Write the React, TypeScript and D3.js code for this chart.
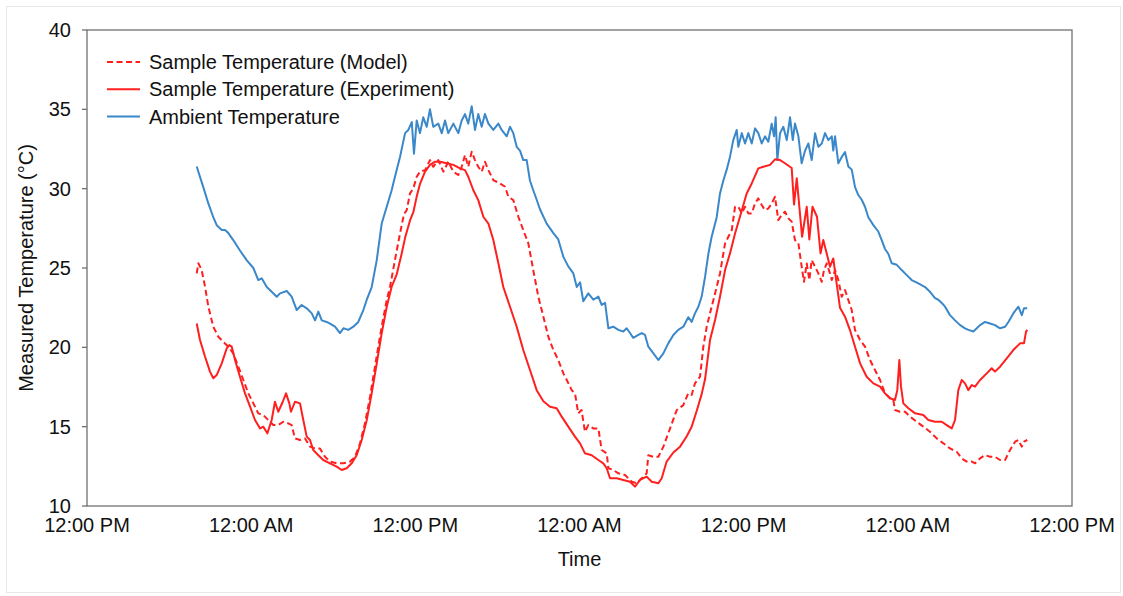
import React from "react";
import * as d3 from "d3";

// Time is in hours from the first 12:00 PM tick
const xTickHours = [0, 12, 24, 36, 48, 60, 72];
const xTickLabels = ["12:00 PM", "12:00 AM", "12:00 PM", "12:00 AM", "12:00 PM", "12:00 AM", "12:00 PM"];
const yTicks = [10, 15, 20, 25, 30, 35, 40];

const seriesNames = ["Sample Temperature (Model)", "Sample Temperature (Experiment)", "Ambient Temperature"];

const ambientSeries: [number, number][] = [
  [8.02,31.4],[8.14,31.07],[8.50,30.1],[8.87,29.07],[9.23,28.2],[9.48,27.7],[9.85,27.4],[10.09,27.4],[10.33,27.2],[10.69,26.76],[11.18,26.1],[11.67,25.5],[12.16,25.0],[12.52,24.24],[12.77,24.35],[13.14,23.8],[13.50,23.5],[13.87,23.19],[14.11,23.4],[14.60,23.55],[14.96,23.2],[15.33,22.35],[15.69,22.67],[16.06,22.46],[16.43,22.14],[16.67,21.7],[16.91,22.25],[17.16,21.7],[17.52,21.6],[17.76,21.5],[18.13,21.3],[18.49,20.9],[18.74,21.2],[19.10,21.1],[19.47,21.3],[19.83,21.6],[20.20,22.35],[20.45,23.0],[20.81,23.8],[21.18,25.5],[21.54,27.8],[21.91,28.86],[22.27,29.9],[22.51,30.75],[22.88,32.0],[23.25,33.5],[23.49,33.7],[23.74,34.2],[23.90,32.2],[24.10,34.3],[24.34,33.5],[24.58,34.5],[24.83,33.9],[25.07,35.0],[25.31,33.9],[25.68,34.1],[25.93,33.5],[26.17,34.3],[26.41,33.5],[26.78,34.1],[27.14,33.5],[27.39,34.3],[27.63,34.7],[27.87,34.1],[28.12,35.2],[28.36,33.7],[28.60,34.7],[28.85,33.9],[29.09,34.7],[29.34,34.1],[29.70,33.7],[30.07,34.1],[30.31,33.7],[30.68,33.3],[30.92,33.9],[31.16,33.5],[31.41,32.64],[31.65,32.4],[31.89,31.8],[32.14,31.8],[32.38,30.5],[32.62,29.9],[32.87,29.3],[33.11,28.7],[33.60,27.8],[34.09,27.2],[34.45,26.8],[34.82,25.7],[35.18,25.1],[35.55,24.66],[35.80,23.8],[36.04,24.1],[36.28,22.9],[36.64,23.4],[37.01,23.0],[37.38,23.2],[37.62,22.67],[37.87,22.8],[38.11,21.2],[38.47,21.3],[38.84,21.1],[39.20,21.0],[39.45,21.2],[39.69,20.9],[39.93,20.6],[40.30,20.78],[40.55,20.9],[40.79,20.78],[41.03,20.04],[41.40,19.62],[41.76,19.2],[42.13,19.62],[42.49,20.25],[42.86,20.78],[43.22,21.1],[43.59,21.3],[43.95,21.9],[44.20,21.6],[44.44,22.14],[44.69,22.56],[44.93,23.2],[45.18,24.45],[45.42,25.9],[45.66,26.97],[46.03,28.2],[46.27,29.7],[46.51,30.5],[46.76,31.2],[47.00,32.0],[47.24,33.06],[47.49,33.7],[47.61,32.64],[47.86,33.5],[48.10,32.85],[48.34,33.5],[48.59,32.85],[48.83,33.8],[49.07,33.5],[49.32,32.85],[49.56,33.3],[49.80,32.96],[50.05,34.1],[50.22,33.3],[50.34,34.5],[50.46,31.8],[50.66,33.5],[50.90,33.9],[51.15,33.06],[51.39,34.5],[51.59,33.06],[51.75,34.1],[52.00,33.3],[52.24,31.6],[52.49,32.4],[52.73,32.85],[52.97,31.8],[53.22,33.5],[53.46,32.64],[53.71,32.85],[53.95,33.5],[54.19,33.06],[54.44,33.3],[54.55,32.4],[54.68,33.3],[54.92,31.6],[55.17,32.0],[55.41,32.3],[55.65,31.4],[55.90,31.2],[56.14,30.1],[56.38,29.6],[56.63,29.3],[56.87,28.86],[57.11,28.2],[57.48,27.7],[57.84,27.3],[58.09,26.76],[58.33,26.2],[58.57,25.9],[58.82,25.3],[59.19,25.2],[59.55,24.87],[59.92,24.55],[60.28,24.24],[60.77,24.03],[61.26,23.8],[61.62,23.5],[61.99,23.1],[62.23,23.0],[62.48,22.8],[62.72,22.56],[63.08,22.03],[63.45,21.7],[63.82,21.4],[64.18,21.2],[64.42,21.1],[64.79,21.0],[65.04,21.2],[65.28,21.4],[65.64,21.6],[66.01,21.5],[66.37,21.4],[66.74,21.2],[67.11,21.3],[67.35,21.6],[67.71,22.14],[68.08,22.56],[68.33,22.03],[68.49,22.46],[68.73,22.46]
];

const experimentSeries: [number, number][] = [
  [8.02,21.5],[8.26,20.46],[8.63,19.41],[8.99,18.47],[9.23,18.05],[9.48,18.25],[9.85,18.99],[10.21,19.93],[10.40,20.14],[10.58,20.04],[10.82,19.2],[11.18,18.15],[11.55,17.1],[11.92,16.26],[12.28,15.42],[12.65,14.89],[12.89,15.0],[13.18,14.58],[13.50,15.42],[13.74,16.57],[13.98,15.94],[14.31,16.57],[14.55,17.1],[14.79,16.47],[14.91,15.94],[15.20,16.57],[15.57,16.47],[15.81,15.42],[16.06,14.37],[16.30,14.16],[16.54,13.53],[16.91,13.2],[17.27,12.9],[17.76,12.69],[18.25,12.48],[18.62,12.27],[18.98,12.38],[19.35,12.69],[19.71,13.2],[20.08,14.16],[20.45,15.42],[20.81,17.1],[21.18,18.99],[21.54,20.88],[21.91,22.56],[22.27,23.82],[22.64,24.6],[23.00,25.9],[23.25,26.9],[23.61,28.0],[23.85,28.5],[24.10,29.5],[24.34,30.3],[24.71,31.07],[25.07,31.5],[25.44,31.7],[25.80,31.7],[26.29,31.6],[26.78,31.5],[27.27,31.28],[27.63,31.17],[27.87,30.75],[28.24,29.9],[28.60,29.28],[28.97,28.23],[29.34,27.8],[29.70,26.76],[30.07,25.3],[30.43,23.8],[30.92,22.56],[31.41,21.3],[31.89,19.83],[32.38,18.57],[32.87,17.3],[33.36,16.6],[33.85,16.26],[34.33,16.16],[34.70,15.63],[35.18,15.0],[35.67,14.37],[36.04,13.95],[36.40,13.32],[36.89,13.2],[37.38,12.9],[37.74,12.69],[37.99,12.38],[38.23,11.75],[38.72,11.75],[39.20,11.64],[39.69,11.53],[40.06,11.22],[40.42,11.64],[40.91,11.85],[41.28,11.53],[41.76,11.43],[42.01,11.75],[42.37,12.8],[42.86,13.37],[43.35,13.74],[43.84,14.4],[44.20,15.0],[44.57,16.0],[44.93,17.05],[45.18,18.0],[45.54,20.46],[45.91,21.72],[46.27,23.19],[46.64,24.87],[47.00,25.92],[47.37,27.18],[47.73,28.23],[48.22,29.7],[48.59,30.33],[49.07,31.28],[49.44,31.38],[49.93,31.5],[50.29,31.85],[50.66,31.8],[51.02,31.6],[51.51,31.3],[51.68,29.0],[51.88,30.65],[52.27,26.97],[52.61,28.86],[52.80,26.8],[53.03,28.86],[53.36,28.23],[53.62,25.92],[53.82,26.76],[54.07,25.92],[54.31,25.08],[54.55,25.6],[54.80,24.0],[55.04,22.5],[55.41,21.93],[55.77,21.09],[56.14,20.04],[56.51,18.99],[56.99,18.15],[57.48,17.73],[57.97,17.52],[58.33,17.1],[58.70,16.79],[59.06,16.68],[59.23,17.3],[59.38,19.2],[59.50,17.52],[59.67,16.47],[60.04,16.16],[60.53,15.84],[61.13,15.73],[61.50,15.42],[61.99,15.31],[62.48,15.31],[62.84,15.1],[63.21,14.89],[63.45,15.42],[63.69,17.3],[63.94,17.94],[64.18,17.73],[64.42,17.3],[64.67,17.62],[64.91,17.52],[65.28,17.94],[65.77,18.36],[66.13,18.68],[66.37,18.47],[66.74,18.78],[67.23,19.31],[67.71,19.83],[68.20,20.25],[68.49,20.25],[68.64,20.99],[68.73,21.1]
];

const modelSeries: [number, number][] = [
  [8.02,24.66],[8.14,25.3],[8.38,24.87],[8.63,23.82],[8.87,22.56],[9.23,21.3],[9.60,20.67],[9.96,20.35],[10.33,20.04],[10.69,19.62],[11.06,18.78],[11.43,17.94],[11.79,17.1],[12.16,16.47],[12.52,15.84],[12.89,15.73],[13.25,15.42],[13.62,15.1],[13.98,15.1],[14.35,15.31],[14.71,15.21],[14.96,15.1],[15.20,14.26],[15.57,14.16],[15.94,14.26],[16.30,13.74],[16.67,13.63],[17.03,13.63],[17.40,13.1],[17.76,12.8],[18.25,12.69],[18.74,12.69],[19.23,12.8],[19.59,13.1],[19.96,13.95],[20.32,15.21],[20.69,16.89],[20.93,18.15],[21.29,20.04],[21.54,21.3],[21.91,22.98],[22.15,23.82],[22.51,25.5],[22.88,27.18],[23.17,28.4],[23.37,28.65],[23.61,29.7],[23.85,30.01],[24.10,30.75],[24.34,31.07],[24.71,31.17],[25.07,31.8],[25.31,31.38],[25.68,31.8],[26.05,31.07],[26.41,31.7],[26.78,31.07],[27.14,30.86],[27.39,31.38],[27.63,32.12],[27.87,31.38],[28.12,32.33],[28.36,31.8],[28.60,31.38],[28.85,31.07],[29.09,31.7],[29.34,31.17],[29.70,30.54],[30.19,30.33],[30.56,30.12],[30.80,29.49],[31.16,29.28],[31.53,28.23],[31.89,27.39],[32.26,26.55],[32.62,24.87],[32.99,23.19],[33.36,21.93],[33.72,20.67],[34.09,19.83],[34.45,19.2],[34.82,18.36],[35.07,17.94],[35.43,17.3],[35.67,17.1],[35.91,15.84],[36.15,16.05],[36.40,14.68],[36.64,15.1],[37.01,14.89],[37.38,14.89],[37.62,13.53],[37.99,13.32],[38.11,12.38],[38.47,12.27],[38.84,12.06],[39.33,11.95],[39.82,11.53],[40.18,11.43],[40.55,11.75],[40.91,12.06],[41.03,13.2],[41.40,13.1],[41.76,13.1],[42.13,13.74],[42.62,14.89],[43.11,16.05],[43.59,16.36],[43.95,17.1],[44.20,17.0],[44.44,17.73],[44.81,18.15],[45.05,20.04],[45.30,21.3],[45.54,22.14],[45.91,23.4],[46.27,24.66],[46.64,26.55],[46.88,26.97],[47.13,27.39],[47.37,28.86],[47.61,28.86],[47.86,28.44],[48.10,28.86],[48.34,28.44],[48.59,28.44],[48.83,29.07],[49.07,29.39],[49.32,28.97],[49.56,28.65],[49.80,28.75],[50.05,29.07],[50.29,29.49],[50.53,28.02],[50.78,28.34],[51.02,28.55],[51.27,28.13],[51.51,27.92],[51.75,26.76],[52.00,26.55],[52.24,25.08],[52.41,24.13],[52.61,25.29],[52.80,24.24],[52.97,25.5],[53.22,25.08],[53.46,24.66],[53.71,24.13],[53.87,24.87],[54.07,25.29],[54.31,24.66],[54.44,24.24],[54.68,24.87],[54.92,24.24],[55.17,23.19],[55.41,23.61],[55.65,22.98],[55.90,22.35],[56.14,21.09],[56.51,20.46],[56.87,20.04],[57.24,19.2],[57.60,18.57],[57.97,17.94],[58.33,17.1],[58.70,16.79],[58.94,16.68],[59.06,16.05],[59.43,15.94],[59.80,15.94],[60.16,15.63],[60.65,15.31],[61.13,15.0],[61.62,14.68],[62.11,14.26],[62.60,13.95],[63.08,13.63],[63.57,13.42],[63.94,13.0],[64.30,12.8],[64.67,12.8],[64.91,12.69],[65.28,13.0],[65.64,13.21],[66.01,13.1],[66.37,13.1],[66.74,12.9],[67.11,12.9],[67.47,13.53],[67.84,14.05],[68.08,14.16],[68.33,13.74],[68.49,14.05],[68.73,14.16]
];

const RED = "#ff1f1f";
const BLUE = "#3a88c9";
const FONT = "'Liberation Sans', Arial, Helvetica, sans-serif";

export default function App() {
  const W = 1123, H = 596;
  const left = 87, right = 1072, top = 30, bottom = 506;
  const x = d3.scaleLinear().domain([0, 72]).range([left, right]);
  const y = d3.scaleLinear().domain([10, 40]).range([bottom, top]);
  const line = d3.line<[number, number]>().x(d => x(d[0])).y(d => y(d[1]));

  const legendItems = [
    { name: seriesNames[0], color: RED, dash: "6,3.5" },
    { name: seriesNames[1], color: RED, dash: undefined },
    { name: seriesNames[2], color: BLUE, dash: undefined },
  ];

  return (
    <div style={{ position: "absolute", left: 0, top: 0 }}>
      <svg width={W} height={H} style={{ display: "block", fontFamily: FONT }}>
        <rect x={0} y={0} width={W} height={H} fill="#ffffff" />
        <rect x={6.5} y={6.5} width={1114} height={586} fill="none" stroke="#e6e6e6" strokeWidth={1} />

        {/* plot frame */}
        <rect x={left} y={top} width={right - left} height={bottom - top} fill="none" stroke="#707070" strokeWidth={1.3} />

        {/* y ticks */}
        {yTicks.map(t => (
          <g key={"y" + t}>
            <line x1={left - 5} x2={left} y1={y(t)} y2={y(t)} stroke="#707070" strokeWidth={1.3} />
            <text x={71} y={y(t) + 7} textAnchor="end" fontSize={20} fill="#111">{t}</text>
          </g>
        ))}

        {/* x tick labels */}
        {xTickHours.map((h, i) => (
          <text key={"x" + i} x={x(h)} y={532} textAnchor="middle" fontSize={20} fill="#111">{xTickLabels[i]}</text>
        ))}

        {/* axis titles */}
        <text x={(left + right) / 2} y={566} textAnchor="middle" fontSize={20} fill="#111">Time</text>
        <text transform={`translate(33, ${(top + bottom) / 2}) rotate(-90)`} textAnchor="middle" fontSize={20} fill="#111">
          Measured Temperature (°C)
        </text>

        {/* series */}
        <path d={line(ambientSeries) || ""} fill="none" stroke={BLUE} strokeWidth={2} strokeLinejoin="round" />
        <path d={line(experimentSeries) || ""} fill="none" stroke={RED} strokeWidth={2} strokeLinejoin="round" />
        <path d={line(modelSeries) || ""} fill="none" stroke={RED} strokeWidth={2} strokeDasharray="6,3.5" strokeLinejoin="round" />

        {/* legend */}
        {legendItems.map((it, i) => {
          const ly = 62 + i * 27.3;
          return (
            <g key={"lg" + i}>
              <line x1={107} x2={140} y1={ly} y2={ly} stroke={it.color} strokeWidth={2} strokeDasharray={it.dash} />
              <text x={149} y={ly + 7} fontSize={20} fill="#111">{it.name}</text>
            </g>
          );
        })}
      </svg>
    </div>
  );
}
